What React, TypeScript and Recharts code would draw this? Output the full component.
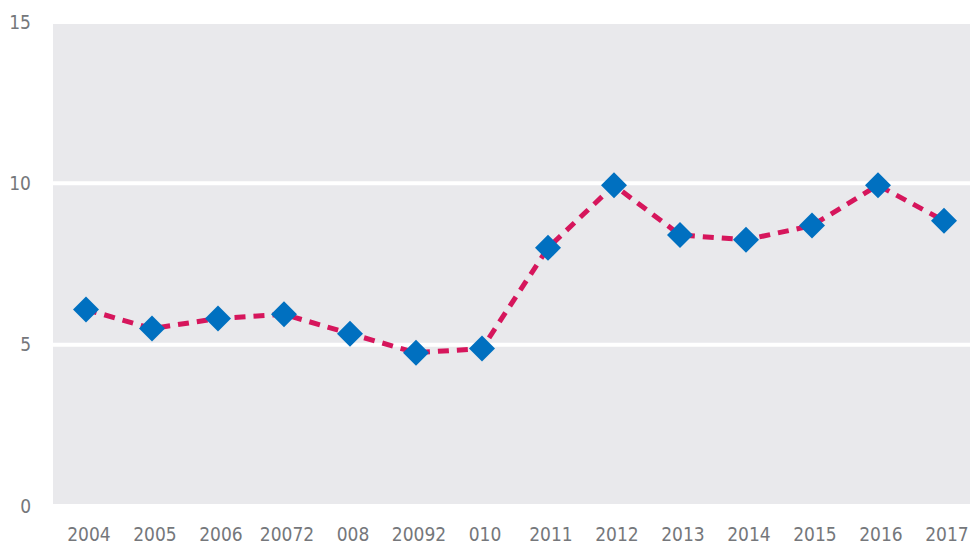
import { LineChart, Line, XAxis, YAxis, CartesianGrid } from 'recharts';

// tick labels as printed in the source (some overlap in the original)
const years = ["2004", "2005", "2006", "20072", "008", "20092", "010", "2011", "2012", "2013", "2014", "2015", "2016", "2017"];
const values = [6.09, 5.5, 5.81, 5.94, 5.34, 4.75, 4.88, 8.0, 9.94, 8.4, 8.25, 8.69, 9.94, 8.84];
const yTicks = [0, 5, 10, 15];

const data = years.map((year, i) => ({ year, value: values[i] }));

const FONT = "'Liberation Sans Narrow', 'DejaVu Sans Condensed', Roboto, sans-serif";

// blue diamond marker
const Diamond = (props: any) => {
  const { cx, cy, index } = props;
  const r = 13;
  return (
    <polygon
      key={`dot-${index}`}
      points={`${cx},${cy - r} ${cx + r},${cy} ${cx},${cy + r} ${cx - r},${cy}`}
      fill="#0070c0"
    />
  );
};

export default function App() {
  return (
    <div style={{ position: 'absolute', left: 0, top: 0, width: 970, height: 548, overflow: 'hidden', background: '#fff' }}>
      <LineChart
        width={970}
        height={548}
        data={data}
        margin={{ top: 22, right: 0, left: 0, bottom: 0 }}
      >
        <CartesianGrid
          fill="#e9e9ec"
          stroke="#ffffff"
          strokeWidth={4}
          vertical={false}
        />
        <XAxis
          dataKey="year"
          height={42}
          padding={{ left: 33, right: 26 }}
          axisLine={false}
          tickLine={false}
          tickSize={0}
          tickMargin={22}
          interval={0}
          tick={{ fill: '#75777b', fontSize: 19, fontFamily: FONT, fontWeight: 500, dx: 3 }}
        />
        <YAxis
          type="number"
          domain={[0, 15]}
          ticks={yTicks}
          width={53}
          axisLine={false}
          tickLine={false}
          tickSize={0}
          tickMargin={22}
          tick={{ fill: '#75777b', fontSize: 19, fontFamily: FONT, fontWeight: 500 }}
        />
        <Line
          type="linear"
          dataKey="value"
          stroke="#d6165c"
          strokeWidth={5}
          strokeDasharray="11 8"
          dot={Diamond}
          activeDot={false}
          isAnimationActive={false}
        />
      </LineChart>
    </div>
  );
}
